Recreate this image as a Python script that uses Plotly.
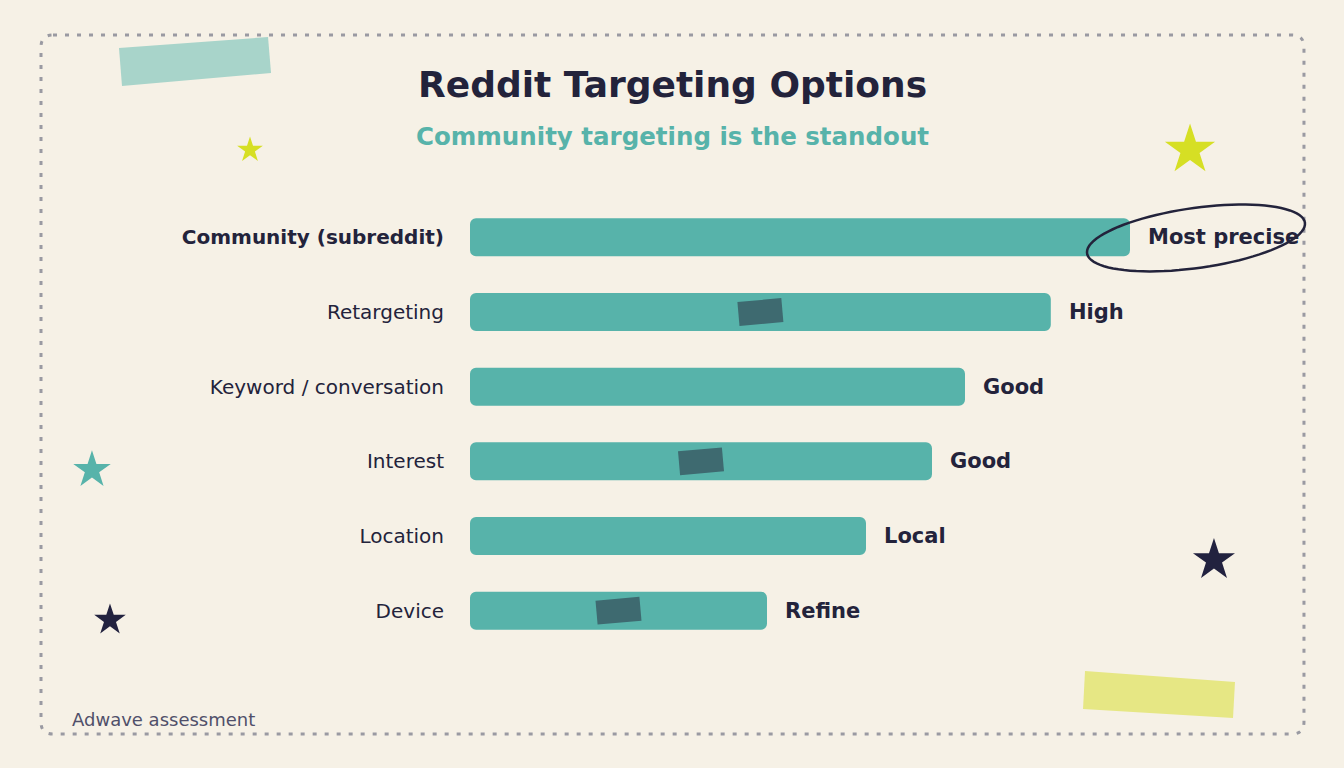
import numpy as np
import plotly.graph_objects as go

# ---- data ----
categories = ["Community (subreddit)", "Retargeting", "Keyword / conversation",
              "Interest", "Location", "Device"]
values = [100, 88, 75, 70, 60, 45]
value_labels = ["Most precise", "High", "Good", "Good", "Local", "Refine"]
taped = [False, True, False, True, False, True]

# ---- style ----
W, H = 1344, 768
ML, MR, MT, MB = 470, 16, 200, 120
PW, PH = W - ML - MR, H - MT - MB
BG = "#f6f1e6"
TEAL = "#57b3aa"
NAVY = "#23233b"
FONT = "DejaVu Sans, sans-serif"


def px(x):
    return (x - ML) / PW


def py(y):
    return (H - MB - y) / PH


fig = go.Figure()

# explicit base so that plotly rounds both ends of each bar
fig.add_trace(go.Bar(
    y=categories, x=values, base=[0] * len(values), orientation="h",
    marker=dict(color=TEAL, line=dict(width=0)),
    width=0.51, hoverinfo="skip", showlegend=False,
))

ticktext = ["<b>%s</b>" % c if i == 0 else c for i, c in enumerate(categories)]

fig.update_layout(
    width=W, height=H,
    paper_bgcolor=BG, plot_bgcolor=BG,
    margin=dict(l=ML, r=MR, t=MT, b=MB),
    barcornerradius=6,
    font=dict(family=FONT, color=NAVY),
    xaxis=dict(range=[0, PW / 6.6], visible=False, fixedrange=True),
    yaxis=dict(categoryorder="array", categoryarray=categories[::-1],
               tickmode="array", tickvals=categories, ticktext=ticktext,
               tickfont=dict(size=20, color=NAVY, family=FONT),
               ticks="", ticklabelstandoff=25, showgrid=False, zeroline=False,
               showline=False, fixedrange=True),
)

shapes = []
annotations = []

# value labels
for c, v, lab in zip(categories, values, value_labels):
    annotations.append(dict(x=v, y=c, xref="x", yref="y", text="<b>%s</b>" % lab,
                            showarrow=False, xanchor="left", xshift=16,
                            font=dict(size=21, color=NAVY, family=FONT)))

# tape patches on bars
ang = np.deg2rad(5)
hw, hh = 22, 12
corners = np.array([[-hw, -hh], [hw, -hh], [hw, hh], [-hw, hh]])
rot = np.array([[np.cos(ang), -np.sin(ang)], [np.sin(ang), np.cos(ang)]])
rc = corners @ rot.T
tape_path = "M " + " L ".join("%.1f,%.1f" % (a, b) for a, b in rc) + " Z"
for c, v, t in zip(categories, values, taped):
    if t:
        shapes.append(dict(type="path", xref="x", yref="y",
                           xsizemode="pixel", ysizemode="pixel",
                           xanchor=v / 2, yanchor=c, path=tape_path,
                           fillcolor="#3e6a70", line=dict(width=0), layer="above"))

# ellipse around top label
t = np.linspace(0, 2 * np.pi, 90)
cx, cy, rx, ry, th = 1196, 238, 110, 30, np.deg2rad(-8)
ex = cx + rx * np.cos(t) * np.cos(th) - ry * np.sin(t) * np.sin(th)
ey = cy + rx * np.cos(t) * np.sin(th) + ry * np.sin(t) * np.cos(th)
ell = "M " + " L ".join("%.4f,%.4f" % (px(a), py(b)) for a, b in zip(ex, ey)) + " Z"
shapes.append(dict(type="path", xref="paper", yref="paper", path=ell,
                   line=dict(color=NAVY, width=2.5), fillcolor="rgba(0,0,0,0)",
                   layer="above"))


def poly(pts, color, layer="below"):
    p = "M " + " L ".join("%.4f,%.4f" % (px(a), py(b)) for a, b in pts) + " Z"
    return dict(type="path", xref="paper", yref="paper", path=p,
                fillcolor=color, line=dict(width=0), layer=layer)


# decorative tape strips
shapes.append(poly([(119, 48), (268, 37), (271, 73), (122, 86)], "#a8d4ca"))
shapes.append(poly([(1085, 671), (1235, 682), (1233, 718), (1083, 709)], "#e6e784"))

# dotted rounded border
x0, y0, x1, y1, r = 41, 35, 1304, 734, 12
path = "M %.4f,%.4f L %.4f,%.4f " % (px(x0 + r), py(y0), px(x1 - r), py(y0))
path += "Q %.4f,%.4f %.4f,%.4f " % (px(x1), py(y0), px(x1), py(y0 + r))
path += "L %.4f,%.4f " % (px(x1), py(y1 - r))
path += "Q %.4f,%.4f %.4f,%.4f " % (px(x1), py(y1), px(x1 - r), py(y1))
path += "L %.4f,%.4f " % (px(x0 + r), py(y1))
path += "Q %.4f,%.4f %.4f,%.4f " % (px(x0), py(y1), px(x0), py(y1 - r))
path += "L %.4f,%.4f " % (px(x0), py(y0 + r))
path += "Q %.4f,%.4f %.4f,%.4f Z" % (px(x0), py(y0), px(x0 + r), py(y0))
shapes.append(dict(type="path", xref="paper", yref="paper", path=path,
                   line=dict(color="#9a9aa2", width=3, dash="4px,8px"),
                   fillcolor="rgba(0,0,0,0)", layer="below"))

# decorative stars
star_x = [250, 1190, 92, 1214, 110]
star_y = [150, 150, 470, 560, 620]
star_r = [13.5, 26.4, 19.7, 22.1, 16.6]
star_c = ["#d6df24", "#d6df24", TEAL, "#22223f", "#22223f"]
for sx, sy, sr, sc in zip(star_x, star_y, star_r, star_c):
    pts = []
    for i in range(10):
        a = -np.pi / 2 + i * np.pi / 5
        rr = sr if i % 2 == 0 else sr * 0.382
        pts.append((sx + rr * np.cos(a), sy + rr * np.sin(a)))
    shapes.append(poly(pts, sc))

# titles / footer
annotations.append(dict(x=px(672), y=py(85), xref="paper", yref="paper",
                        text="<b>Reddit Targeting Options</b>", showarrow=False,
                        xanchor="center", yanchor="middle",
                        font=dict(size=36, color=NAVY, family=FONT)))
annotations.append(dict(x=px(672), y=py(136), xref="paper", yref="paper",
                        text="<b>Community targeting is the standout</b>", showarrow=False,
                        xanchor="center", yanchor="middle",
                        font=dict(size=24.5, color=TEAL, family=FONT)))
annotations.append(dict(x=px(70), y=py(719), xref="paper", yref="paper",
                        text="Adwave assessment", showarrow=False,
                        xanchor="left", yanchor="middle",
                        font=dict(size=18, color="#50506a", family=FONT)))

fig.update_layout(shapes=shapes, annotations=annotations)
fig.write_html("out.html")
